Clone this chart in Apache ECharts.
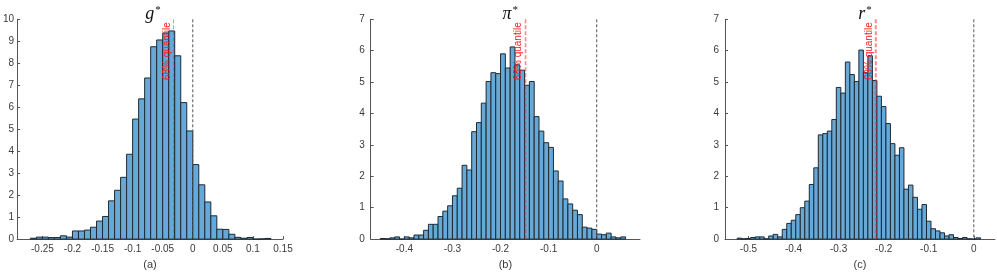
<!DOCTYPE html>
<html>
<head>
<meta charset="utf-8">
<script src="https://cdn.jsdelivr.net/npm/echarts@6/dist/echarts.min.js"></script>
<style>html,body{margin:0;padding:0;background:#fff;}#c{width:997px;height:275px;}</style>
</head>
<body>
<div id="c"></div>
<script>
// ---- data ----
const binWidth = 0.01;
const gBinStart = -0.27;
const gDensity = [0.04, 0.09, 0.09, 0.07, 0.07, 0.15, 0.09, 0.37, 0.37, 0.41, 0.54, 0.82, 1.03, 1.74, 2.22, 2.81, 3.86, 5.46, 6.38, 7.33, 8.75, 9.06, 9.38, 9.47, 8.34, 6.21, 4.92, 3.39, 2.47, 1.69, 1.06, 0.45, 0.44, 0.22, 0.08, 0.04, 0.07, 0.0, 0.01, 0.03];
const piBinStart = -0.45;
const piDensity = [0.02, 0.01, 0.04, 0.07, 0.0, 0.07, 0.04, 0.13, 0.13, 0.28, 0.47, 0.47, 0.72, 0.89, 1.06, 1.38, 1.62, 2.35, 2.2, 3.42, 3.71, 4.33, 5.02, 5.3, 5.27, 5.9, 5.45, 6.12, 5.55, 5.38, 4.9, 5.02, 3.9, 3.44, 3.07, 2.92, 2.17, 1.85, 1.28, 1.12, 0.92, 0.78, 0.38, 0.35, 0.31, 0.16, 0.14, 0.19, 0.07, 0.04, 0.07];
const rBinStart = -0.525;
const rDensity = [0.03, 0.01, 0.02, 0.05, 0.07, 0.07, 0.01, 0.1, 0.15, 0.07, 0.31, 0.5, 0.6, 0.78, 1.0, 1.21, 1.74, 2.27, 3.32, 3.36, 3.44, 3.81, 4.83, 4.65, 5.64, 5.24, 5.02, 6.02, 5.3, 5.84, 5.05, 4.55, 4.22, 3.68, 3.04, 2.67, 2.91, 1.59, 1.72, 1.33, 0.95, 1.1, 0.57, 0.33, 0.26, 0.2, 0.1, 0.14, 0.05, 0.02, 0.05, 0.01, 0.0, 0.04];
const quantile68 = [-0.032, -0.148, -0.2175];
const zeroLine = [0, 0, 0];
const gTicks = [-0.25, -0.2, -0.15, -0.1, -0.05, 0, 0.05, 0.1, 0.15];
const piTicks = [-0.4, -0.3, -0.2, -0.1, 0];
const rTicks = [-0.5, -0.4, -0.3, -0.2, -0.1, 0];
const gYTicks = [0,1,2,3,4,5,6,7,8,9,10];
const prYTicks = [0,1,2,3,4,5,6,7];
const panelTitles = ['g', 'π', 'r'];
const panelLabels = ['(a)', '(b)', '(c)'];
const quantileText = '68% quantile';

// ---- layout ----
const grids = [
  {left: 13, top: 19.3, width: 270, height: 226.4},
  {left: 370.7, top: 19.3, width: 269.3, height: 226.4},
  {left: 725, top: 19.3, width: 270, height: 226.4}
];
const xRanges = [[-0.292, 0.15], [-0.47, 0.09], [-0.552, 0.047]];
const yMax = [10, 7, 7];
const xTicks = [gTicks, piTicks, rTicks];
const yTicks = [gYTicks, prYTicks, prYTicks];
const yLabelMargin = [3, 6, 6];
const redWidth = [1, 1.6, 2];

function binData(start, vals) {
  return vals.map((v, i) => [start + i * binWidth, start + (i + 1) * binWidth, v]);
}
const hists = [binData(gBinStart, gDensity), binData(piBinStart, piDensity), binData(rBinStart, rDensity)];

const fmt = v => String(+(+v).toFixed(2));
const axisColor = '#555';
const labelColor = '#3a3a3a';

const option = {
  animation: false,
  backgroundColor: '#fff',
  grid: grids,
  title: grids.map((g, i) => ({
    text: '{t|' + panelTitles[i] + '}{s|*}',
    left: g.left + g.width / 2,
    textAlign: 'center',
    top: 0,
    textStyle: {
      fontWeight: 'normal',
      rich: {
        t: {fontFamily: 'Liberation Serif', fontStyle: 'italic', fontWeight: 'normal', fontSize: 18, color: '#111'},
        s: {fontFamily: 'Liberation Serif', fontWeight: 'normal', fontSize: 11, color: '#111', verticalAlign: 'top', padding: [0, 0, 8, 1]}
      }
    }
  })),
  xAxis: grids.map((g, i) => ({
    type: 'value', gridIndex: i, min: xRanges[i][0], max: xRanges[i][1],
    splitLine: {show: false},
    axisLine: {show: true, onZero: false, lineStyle: {color: axisColor, width: 1}},
    axisTick: {show: true, inside: true, length: 3, customValues: xTicks[i], lineStyle: {color: axisColor}},
    axisLabel: {customValues: xTicks[i], formatter: fmt, color: labelColor, fontFamily: 'Liberation Sans', fontSize: 10, margin: 5},
    name: panelLabels[i], nameLocation: 'middle', nameGap: 16,
    nameTextStyle: {fontFamily: 'Liberation Sans', fontSize: 11, color: labelColor}
  })),
  yAxis: grids.map((g, i) => ({
    type: 'value', gridIndex: i, min: 0, max: yMax[i], interval: 1,
    splitLine: {show: false},
    axisLine: {show: true, onZero: false, lineStyle: {color: axisColor, width: 1}},
    axisTick: {show: true, inside: true, length: 3, lineStyle: {color: axisColor}},
    axisLabel: {color: labelColor, fontFamily: 'Liberation Sans', fontSize: 10, margin: yLabelMargin[i]}
  })),
  series: []
};

hists.forEach((data, i) => {
  option.series.push({
    type: 'custom', xAxisIndex: i, yAxisIndex: i,
    encode: {x: [0, 1], y: 2},
    data: data,
    renderItem: (params, api) => {
      const p0 = api.coord([api.value(0), api.value(2)]);
      const p1 = api.coord([api.value(1), 0]);
      return {
        type: 'rect',
        shape: {x: p0[0], y: p0[1], width: p1[0] - p0[0], height: p1[1] - p0[1]},
        style: {fill: '#66a9d6', stroke: '#1d2a36', lineWidth: 1}
      };
    }
  });
  // zero reference line
  option.series.push({
    type: 'custom', xAxisIndex: i, yAxisIndex: i, z: 5,
    data: [[zeroLine[i], yMax[i]]],
    renderItem: (params, api) => {
      const top = api.coord([api.value(0), api.value(1)]);
      const bot = api.coord([api.value(0), 0]);
      return {
        type: 'line',
        shape: {x1: top[0], y1: top[1], x2: bot[0], y2: bot[1]},
        style: {stroke: '#555', lineWidth: 1, lineDash: [3, 2]}
      };
    }
  });
  // 68% quantile line + label
  option.series.push({
    type: 'custom', xAxisIndex: i, yAxisIndex: i, z: 6,
    data: [[quantile68[i], yMax[i]]],
    renderItem: (params, api) => {
      const top = api.coord([api.value(0), api.value(1)]);
      const bot = api.coord([api.value(0), 0]);
      return {
        type: 'group',
        children: [
          {
            type: 'line',
            shape: {x1: top[0], y1: top[1], x2: bot[0], y2: bot[1]},
            style: {stroke: 'rgba(255,40,40,0.55)', lineWidth: redWidth[i], lineDash: [4, 2]}
          },
          {
            type: 'text',
            x: top[0] - redWidth[i] / 2 - 1, y: top[1] + 3,
            rotation: Math.PI / 2,
            style: {
              text: quantileText, fill: '#ff1a1a',
              font: '10px "Liberation Sans"',
              align: 'right', verticalAlign: 'bottom'
            }
          }
        ]
      };
    }
  });
});

const chart = echarts.init(document.getElementById('c'), null, {renderer: 'canvas'});
chart.setOption(option);
</script>
</body>
</html>
